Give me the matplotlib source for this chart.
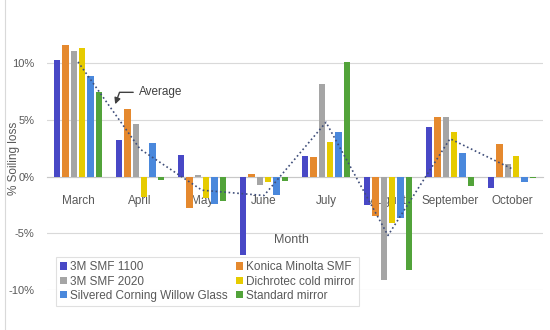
import numpy as np
import matplotlib
matplotlib.use("Agg")
import matplotlib.pyplot as plt
from matplotlib.lines import Line2D

plt.rcParams['font.family'] = ['Liberation Sans', 'DejaVu Sans']

# data (% soiling loss)
months = ["March", "April", "May", "June", "July", "August", "September", "October"]
series = ["3M SMF 1100", "Konica Minolta SMF", "3M SMF 2020",
          "Dichrotec cold mirror", "Silvered Corning Willow Glass", "Standard mirror"]
smf1100 = [10.3, 3.2, 1.9, -6.95, 1.85, -2.5, 4.4, -1.0]
konica = [11.6, 5.95, -2.8, 0.25, 1.7, -3.5, 5.25, 2.9]
smf2020 = [11.1, 4.65, 0.15, -0.75, 8.2, -9.1, 5.25, 1.1]
dichrotec = [11.4, -1.8, -1.9, -0.5, 3.05, -4.1, 3.95, 1.85]
silvered = [8.9, 2.95, -2.4, -1.6, 3.95, -3.65, 2.07, -0.5]
standard = [7.5, -0.3, -2.1, -0.4, 10.1, -8.25, -0.8, -0.15]
colors = ["#4848C6", "#E5892E", "#A5A5A5", "#E6CB00", "#4A88DC", "#52A33A"]

values = [smf1100, konica, smf2020, dichrotec, silvered, standard]
average = np.mean(np.array(values), axis=0)

fig = plt.figure(figsize=(5.5, 3.3), dpi=100)
ax = fig.add_axes([47 / 550, 40 / 330, 496 / 550, 290 / 330])

x = np.arange(len(months))
step = 0.134
bw = 0.102
bars = []
for i, (name, vals, c) in enumerate(zip(series, values, colors)):
    b = ax.bar(x + (i - 2.5) * step, vals, width=bw, color=c, label=name, zorder=3)
    bars.append(b)

ax.plot(x, average, color="#3F4E7A", linestyle=(0, (1, 1.6)), lw=1.2, zorder=4)

ax.annotate("Average", xy=(0.6, 6.4), xytext=(0.98, 7.45),
            fontsize=8.5, color="#404040", va="center",
            arrowprops=dict(arrowstyle="-|>", color="#404040", lw=1,
                            connectionstyle="angle,angleA=0,angleB=70,rad=0",
                            shrinkA=2, shrinkB=0, mutation_scale=9))

ax.set_xlim(-0.5, 7.5)
ax.set_ylim(-10, 15.6)
ax.set_yticks([-10, -5, 0, 5, 10])
ax.set_yticklabels(["-10%", "-5%", "0%", "5%", "10%"])
ax.set_xticks(x)
ax.set_xticklabels(months)
ax.grid(axis="y", color="#d9d9d9", lw=0.8, zorder=0)
for s in ["top", "right", "left"]:
    ax.spines[s].set_visible(False)
ax.spines["bottom"].set_position(("data", 0))
ax.spines["bottom"].set_color("#c8c8c8")
ax.tick_params(axis="x", length=0, pad=13, labelsize=8.5, labelcolor="#595959")
ax.tick_params(axis="y", length=0, pad=9, labelsize=8, labelcolor="#595959")

ax.text(3.45, -5.6, "Month", fontsize=9, color="#595959", ha="center", va="center")
fig.text(14 / 550, 1 - 158 / 330, "% Soiling loss", rotation=90, fontsize=8.5,
         color="#595959", ha="center", va="center")

order = [0, 2, 4, 1, 3, 5]
leg = fig.legend([bars[i] for i in order], [series[i] for i in order], ncol=2,
                 loc="lower left", bbox_to_anchor=(56 / 550, 24 / 330),
                 borderaxespad=0, fontsize=8.5, frameon=True, fancybox=False,
                 edgecolor="#d9d9d9", handlelength=0.55, handleheight=0.55,
                 handletextpad=0.3, columnspacing=0.7, labelspacing=0.2,
                 borderpad=0.35, labelcolor="#595959")
leg.get_frame().set_linewidth(0.8)

fig.add_artist(Line2D([5 / 550, 5 / 550], [0, 1], color="#d9d9d9", lw=0.8))

fig.savefig("out.png", dpi=100)
